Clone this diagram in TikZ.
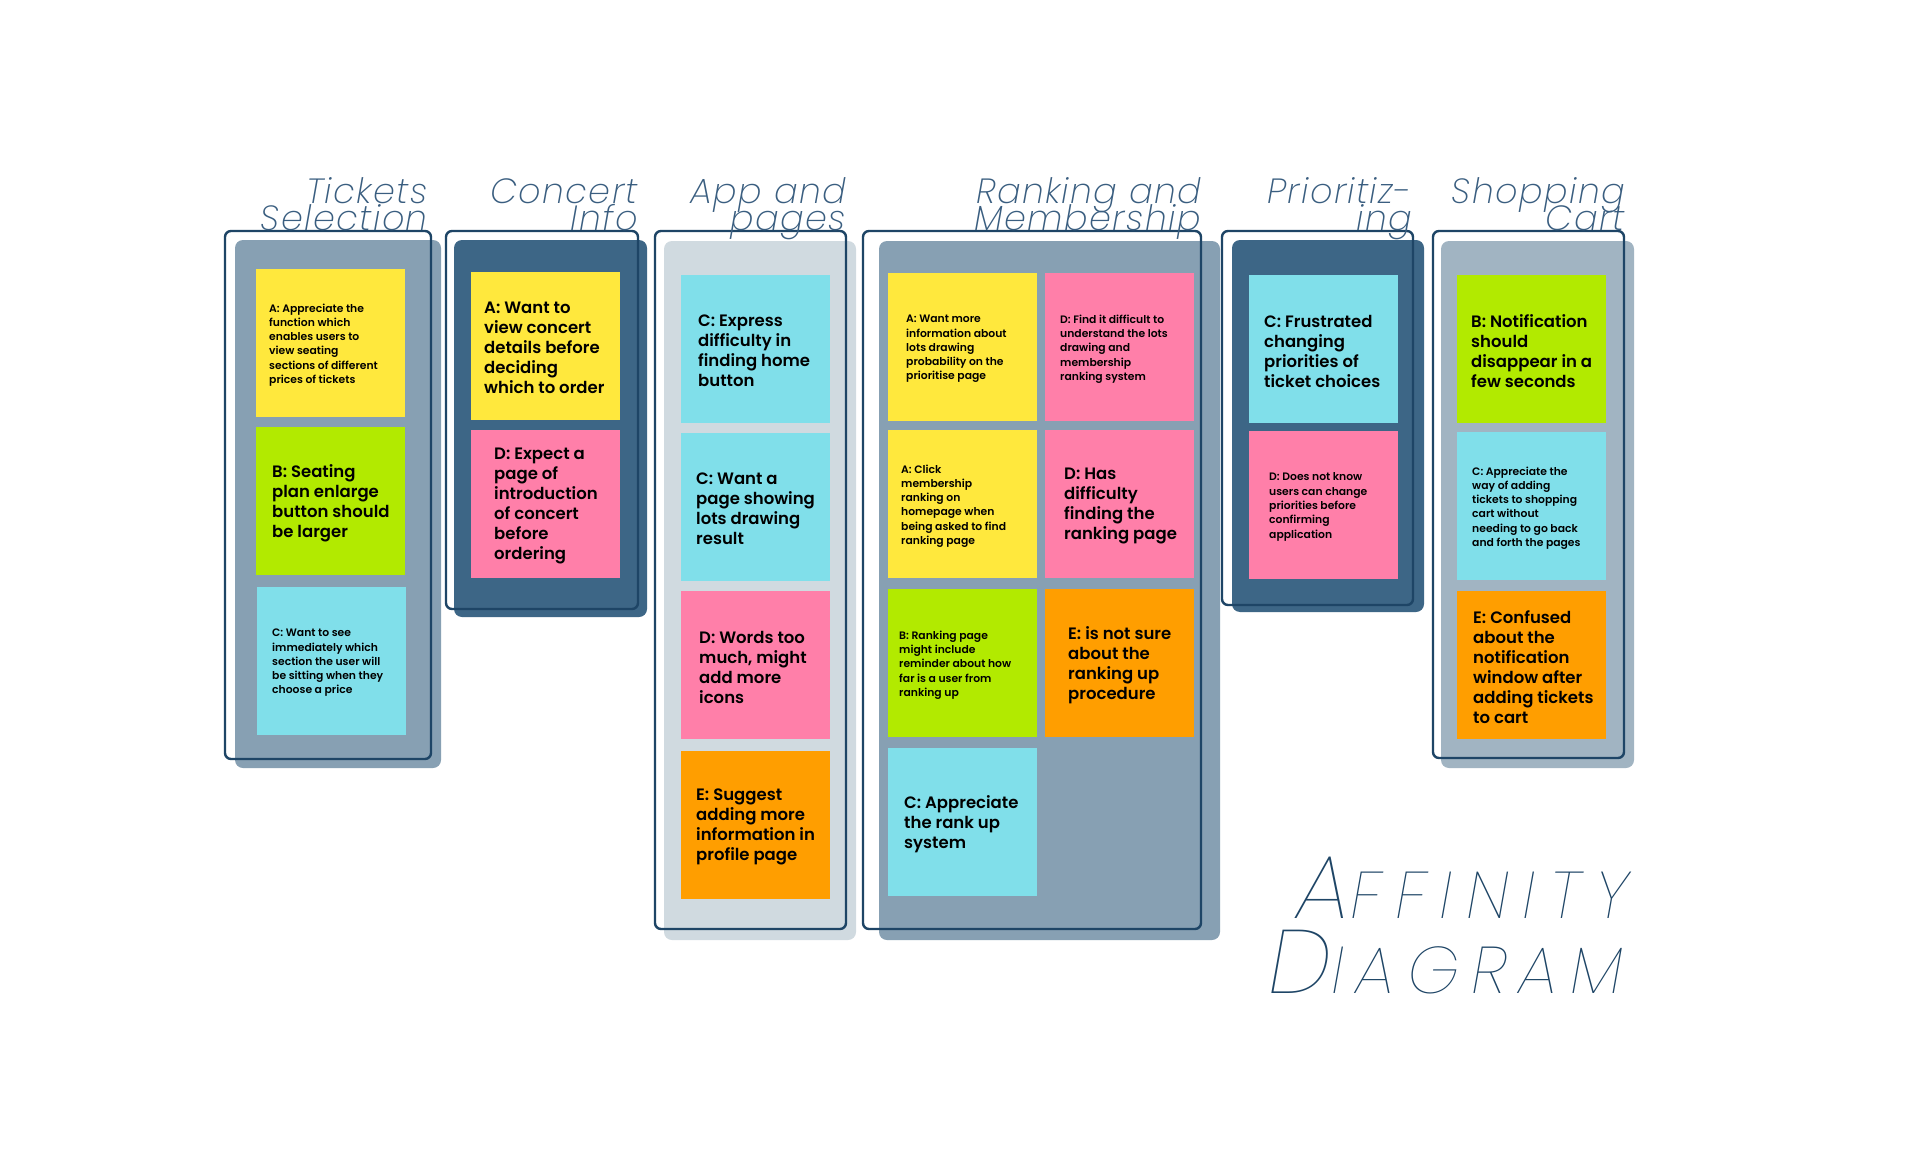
\documentclass[tikz,border=0pt]{standalone}
\usepackage{fontspec}
\setmainfont{Poppins}
\newfontfamily\notefont{Poppins}[UprightFont=* SemiBold]
\newfontfamily\titlefont{Poppins}[UprightFont=* ExtraLight Italic, LetterSpace=4]
\newfontfamily\bigfontA{Poppins}[UprightFont=* Thin Italic, LetterSpace=21]
\newfontfamily\bigfontD{Poppins}[UprightFont=* Thin Italic, LetterSpace=18]
\definecolor{yel}{HTML}{FFE83D}
\definecolor{grn}{HTML}{B2EA00}
\definecolor{cya}{HTML}{80DFEA}
\definecolor{pnk}{HTML}{FF7FA9}
\definecolor{org}{HTML}{FF9E00}
\definecolor{pdark}{HTML}{3D6686}
\definecolor{pmid}{HTML}{87A0B3}
\definecolor{plight}{HTML}{D0DAE0}
\definecolor{pshop}{HTML}{A1B4C2}
\definecolor{navy}{HTML}{1E4566}
\definecolor{ttlc}{HTML}{3A5E80}
\tikzset{
  panel/.style={rounded corners=8pt, draw=none},
  outl/.style={draw=navy, line width=2.4pt, rounded corners=6pt},
  notebox/.style={draw=none, minimum width=149pt, minimum height=148pt, inner sep=0pt, outer sep=0pt},
  bigtxt/.style={anchor=west, align=left, inner sep=0pt, font=\notefont\fontsize{16.5}{20}\selectfont},
  smalltxt/.style={anchor=west, align=left, inner sep=0pt, font=\notefont\fontsize{10.8}{14.3}\selectfont},
  ttl/.style={anchor=base east, inner sep=0pt, text=ttlc, font=\titlefont\fontsize{35}{35}\selectfont},
  bigttl/.style={anchor=base west, inner sep=0pt, text=navy},
}
% #1 name, #2 colour, #3 x left, #4 y top, #5 text pad, #6 text style, #7 text
\newcommand{\mknote}[7]{%
  \node[notebox, fill=#2, anchor=north west] (#1) at (#3,#4) {};
  \node[#6, xshift=#5pt, yshift=-2pt] (#1t) at (#1.west) {#7};
}
\begin{document}
\begin{tikzpicture}[x=1pt, y=-1pt]
\useasboundingbox[fill=white] (0,0) rectangle (1920,1153);
% panels
\fill[panel, pmid]   (235,240) rectangle (441,768);
\fill[panel, pdark]  (454,240) rectangle (647,617);
\fill[panel, plight] (664,241) rectangle (856,940);
\fill[panel, pmid]   (879,241) rectangle (1220,940);
\fill[panel, pdark]  (1232,240) rectangle (1424,612);
\fill[panel, pshop]  (1441,241) rectangle (1634,768);
% Tickets Selection
\mknote{a1}{yel}{256}{269}{13}{smalltxt}{A: Appreciate the\\function which\\enables users to\\view seating\\sections of different\\prices of tickets}
\mknote{a2}{grn}{256}{427}{16}{bigtxt}{B: Seating\\plan enlarge\\button should\\be larger}
\mknote{a3}{cya}{257}{587}{15}{smalltxt}{C: Want to see\\immediately which\\section the user will\\be sitting when they\\choose a price}
% Concert Info
\mknote{b1}{yel}{471}{272}{13}{bigtxt}{A: Want to\\view concert\\details before\\deciding\\which to order}
\mknote{b2}{pnk}{471}{430}{23}{bigtxt}{D: Expect a\\page of\\introduction\\of concert\\before\\ordering}
% App and pages
\mknote{c1}{cya}{681}{275}{17}{bigtxt}{C: Express\\difficulty in\\finding home\\button}
\mknote{c2}{cya}{681}{433}{15}{bigtxt}{C: Want a\\page showing\\lots drawing\\result}
\mknote{c3}{pnk}{681}{591}{18}{bigtxt}{D: Words too\\much, might\\add more\\icons}
\mknote{c4}{org}{681}{751}{15}{bigtxt}{E: Suggest\\adding more\\information in\\profile page}
% Ranking and Membership
\mknote{d1}{yel}{888}{273}{18}{smalltxt}{A: Want more\\information about\\lots drawing\\probability on the\\prioritise page}
\mknote{d2}{pnk}{1045}{273}{15}{smalltxt}{D: Find it difficult to\\understand the lots\\drawing and\\membership\\ranking system}
\mknote{d3}{yel}{888}{430}{13}{smalltxt}{A: Click\\membership\\ranking on\\homepage when\\being asked to find\\ranking page}
\mknote{d4}{pnk}{1045}{430}{19}{bigtxt}{D: Has\\difficulty\\finding the\\ranking page}
\mknote{d5}{grn}{888}{589}{11}{smalltxt}{B: Ranking page\\might include\\reminder about how\\far is a user from\\ranking up}
\mknote{d6}{org}{1045}{589}{23}{bigtxt}{E: is not sure\\about the\\ranking up\\procedure}
\mknote{d7}{cya}{888}{748}{16}{bigtxt}{C: Appreciate\\the rank up\\system}
% Prioritizing
\mknote{e1}{cya}{1249}{275}{15}{bigtxt}{C: Frustrated\\changing\\priorities of\\ticket choices}
\mknote{e2}{pnk}{1249}{431}{20}{smalltxt}{D: Does not know\\users can change\\priorities before\\confirming\\application}
% Shopping Cart
\mknote{f1}{grn}{1457}{275}{14}{bigtxt}{B: Notification\\should\\disappear in a\\few seconds}
\mknote{f2}{cya}{1457}{432}{15}{smalltxt}{C: Appreciate the\\way of adding\\tickets to shopping\\cart without\\needing to go back\\and forth the pages}
\mknote{f3}{org}{1457}{591}{16}{bigtxt}{E: Confused\\about the\\notification\\window after\\adding tickets\\to cart}
% outlines
\draw[outl] (225,231) rectangle (431,759);
\draw[outl] (446,231) rectangle (638,609);
\draw[outl] (655,231) rectangle (846,929);
\draw[outl] (863,231) rectangle (1201,929);
\draw[outl] (1222,231) rectangle (1413,605);
\draw[outl] (1433,231) rectangle (1624,758);
% titles
\node[ttl] (t1a) at (428,203) {Tickets};
\node[ttl] (t1b) at (428,230) {Selection};
\node[ttl] (t2a) at (638,203) {Concert};
\node[ttl] (t2b) at (638,230) {Info};
\node[ttl] (t3a) at (846,203) {App and};
\node[ttl] (t3b) at (846,230) {pages};
\node[ttl] (t4a) at (1201,203) {Ranking and};
\node[ttl] (t4b) at (1201,230) {Membership};
\node[ttl] (t5a) at (1412,203) {Prioritiz-};
\node[ttl] (t5b) at (1412,230) {ing};
\node[ttl] (t6a) at (1625,203) {Shopping};
\node[ttl] (t6b) at (1625,230) {Cart};
% big title
\node[bigttl] (h1) at (1296,918) {\bigfontA\fontsize{90}{90}\selectfont A\fontsize{66}{66}\selectfont FFINITY};
\node[bigttl] (h2) at (1268,993) {\bigfontD\fontsize{90}{90}\selectfont D\fontsize{66}{66}\selectfont IAGRAM};
\end{tikzpicture}
\end{document}
